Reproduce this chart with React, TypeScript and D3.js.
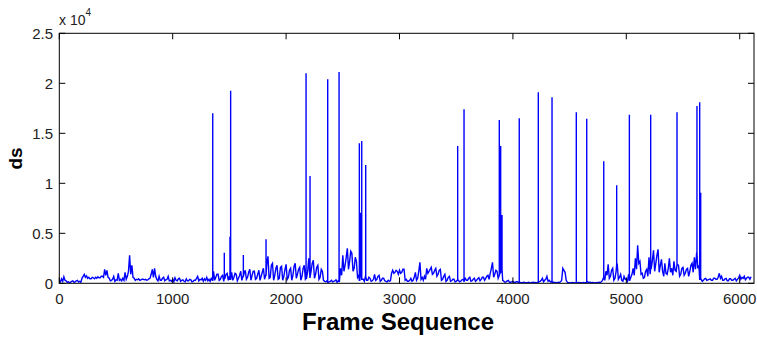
import React from "react";
import * as d3 from "d3";

// Baseline samples every 10 frames, frame 0..6100
const baseStep = 10;
const baseline: number[] = [
  300, 150, 450, 200, 650, 300, 250, 100, 150, 80, 100, 200, 250, 100, 150, 250, 300, 120, 200, 100,
  500, 700, 900, 600, 750, 500, 600, 450, 450, 600, 550, 450, 600, 500, 650, 550, 550, 700, 700, 600,
  1400, 800, 1300, 600, 500, 250, 300, 400, 700, 200, 350, 300, 1000, 300, 400, 250, 500, 300, 1100, 400,
  700, 1200, 2800, 900, 1800, 600, 500, 300, 400, 350, 450, 300, 350, 400, 400, 350, 400, 300, 350, 450,
  500, 900, 1400, 600, 1500, 700, 400, 250, 700, 300, 300, 500, 600, 250, 350, 400, 700, 250, 300, 200,
  400, 150, 550, 300, 250, 450, 500, 200, 300, 350, 200, 150, 450, 250, 250, 400, 350, 150, 200, 300,
  300, 500, 700, 250, 400, 350, 500, 200, 450, 300, 600, 250, 400, 200, 500, 300, 1200, 300, 600, 900,
  900, 300, 400, 700, 800, 200, 500, 900, 1000, 300, 700, 400, 1100, 300, 600, 1000, 900, 250, 500, 800,
  1200, 300, 700, 1000, 1300, 400, 600, 1100, 1400, 300, 800, 1200, 1200, 400, 500, 900, 1300, 300, 700, 1100,
  1500, 400, 800, 2000, 2700, 500, 600, 1800, 2000, 300, 800, 1500, 1800, 400, 500, 1600, 1700, 300, 700, 1400,
  1900, 400, 600, 1300, 1500, 300, 800, 1700, 2000, 500, 900, 1400, 1600, 300, 700, 1500, 1800, 400, 500, 1200,
  2500, 600, 1200, 2000, 2300, 500, 900, 1600, 1800, 400, 600, 1400, 1200, 300, 200, 150, 250, 100, 150, 200,
  300, 150, 200, 250, 350, 100, 250, 200, 1500, 800, 2800, 1200, 1800, 2600, 3500, 1400, 2200, 3200, 3000, 1200,
  1500, 2600, 2200, 600, 800, 300, 1200, 400, 400, 200, 700, 300, 300, 600, 500, 200, 250, 400, 900, 300,
  400, 700, 800, 200, 300, 500, 500, 250, 200, 150, 300, 200, 250, 1000, 1300, 1000, 1100, 1300, 1200, 900,
  1300, 1000, 1100, 1400, 1400, 300, 400, 200, 200, 300, 500, 200, 300, 600, 1100, 300, 500, 1200, 2100, 400,
  600, 300, 700, 400, 1500, 1000, 1200, 1400, 1600, 900, 1000, 1300, 1500, 700, 900, 1300, 1400, 300, 400, 700,
  900, 200, 300, 600, 700, 200, 250, 400, 400, 150, 200, 300, 300, 150, 200, 350, 400, 200, 500, 300,
  300, 500, 600, 200, 250, 400, 500, 200, 300, 450, 550, 250, 400, 600, 600, 300, 500, 700, 800, 400,
  1000, 1500, 2100, 600, 900, 1300, 1200, 500, 800, 1100, 1400, 300, 200, 100, 150, 250, 300, 100, 100, 150,
  200, 80, 100, 150, 150, 50, 100, 60, 50, 80, 100, 40, 50, 60, 100, 40, 50, 80, 100, 60,
  80, 50, 100, 150, 200, 300, 500, 150, 300, 400, 700, 200, 300, 150, 200, 100, 100, 60, 80, 50,
  100, 80, 150, 300, 1500, 1300, 1100, 300, 100, 60, 60, 40, 80, 50, 50, 40, 60, 50, 80, 60,
  50, 40, 80, 60, 60, 50, 150, 80, 100, 60, 80, 50, 60, 40, 80, 60, 100, 80, 150, 300,
  600, 300, 1200, 800, 1900, 500, 700, 1300, 1500, 300, 500, 1200, 1900, 400, 600, 900, 300, 200, 700, 400,
  400, 200, 900, 300, 600, 900, 1500, 800, 2500, 1400, 3800, 2000, 2200, 900, 1000, 500, 600, 1200, 1400, 700,
  2600, 900, 1500, 2300, 3300, 1200, 2000, 2800, 3400, 1100, 1800, 2400, 1200, 700, 2000, 1000, 900, 1500, 2500, 1100,
  1500, 800, 2200, 1300, 1200, 1900, 1800, 700, 900, 1500, 1600, 800, 1000, 1400, 1500, 700, 1200, 1800, 2000, 1100,
  2600, 1400, 3000, 1500, 1800, 400, 400, 200, 300, 450, 500, 300, 350, 400, 450, 300, 300, 500, 500, 400,
  400, 600, 1000, 500, 700, 300, 300, 450, 500, 250, 250, 450, 450, 300, 300, 400, 500, 250, 400, 550,
  800, 400, 600, 500, 700, 350, 500, 600, 600, 400, 650,
];

// Isolated spikes
const spikeFrames: number[] = [
  1353, 1455, 1505, 1511, 1623, 1823, 2176, 2211, 2367, 2467, 2646, 2655,
  2667, 2702, 3513, 3569, 3880, 3892, 3904, 4056, 4224, 4345, 4559, 4651,
  4801, 4915, 5027, 5215, 5447, 5623, 5647, 5656,
];
const spikeValues: number[] = [
  17000, 3060, 4660, 19260, 2830, 4400, 21000, 10730, 20400, 21130, 14000, 7060,
  14230, 11830, 13730, 17400, 16330, 13730, 6830, 16500, 19100, 18600, 17100, 16460,
  12200, 9800, 16860, 16860, 17100, 17730, 18100, 9060,
];

const xTicks: number[] = [0, 1000, 2000, 3000, 4000, 5000, 6000];
const yTicks: number[] = [0, 5000, 10000, 15000, 20000, 25000];
const yTickLabels: string[] = ["0", "0.5", "1", "1.5", "2", "2.5"];

const W = 757;
const H = 339;
const left = 59.3;
const right = 754;
const top = 33.3;
const bottom = 283.3;
const font = "'Liberation Sans', Arial, Helvetica, sans-serif";

export default function App() {
  const x = d3.scaleLinear().domain([0, 6126]).range([left, right]);
  const y = d3.scaleLinear().domain([0, 25000]).range([bottom, top]);

  const pts: [number, number][] = baseline.map((v, i) => [i * baseStep, v]);
  const spikePts: [number, number][] = [];
  spikeFrames.forEach((f, i) => {
    const nb = baseline[Math.min(baseline.length - 1, Math.round(f / baseStep))];
    spikePts.push([f, nb], [f, spikeValues[i]], [f, nb]);
  });
  const all = [...pts, ...spikePts.map((p, i) => [p[0] + i * 1e-6, p[1]] as [number, number])]
    .sort((a, b) => a[0] - b[0]);

  const line = d3
    .line<[number, number]>()
    .x((d) => x(d[0]))
    .y((d) => y(d[1]));

  const tl = 6;
  return (
    <svg
      width={W}
      height={H}
      style={{ position: "absolute", left: 0, top: 0, background: "#fff" }}
    >
      <rect x={0} y={0} width={W} height={H} fill="#fff" />
      <defs>
        <clipPath id="plotclip">
          <rect x={left} y={top} width={right - left} height={bottom - top} />
        </clipPath>
      </defs>
      <path
        d={line(all) || ""}
        fill="none"
        stroke="#0000ff"
        strokeWidth={1.4}
        strokeLinejoin="miter"
        clipPath="url(#plotclip)"
      />
      <rect
        x={left}
        y={top}
        width={right - left}
        height={bottom - top}
        fill="none"
        stroke="#000"
        strokeWidth={1}
      />
      {xTicks.map((t) => (
        <g key={"x" + t}>
          <line x1={x(t)} x2={x(t)} y1={bottom} y2={bottom - tl} stroke="#000" />
          <line x1={x(t)} x2={x(t)} y1={top} y2={top + tl} stroke="#000" />
          <text
            x={x(t)}
            y={304}
            textAnchor="middle"
            fontFamily={font}
            fontSize={15}
            fill="#222"
          >
            {t}
          </text>
        </g>
      ))}
      {yTicks.map((t, i) => (
        <g key={"y" + t}>
          <line x1={left} x2={left + tl} y1={y(t)} y2={y(t)} stroke="#000" />
          <line x1={right} x2={right - tl} y1={y(t)} y2={y(t)} stroke="#000" />
          <text
            x={53}
            y={y(t) + 5.5}
            textAnchor="end"
            fontFamily={font}
            fontSize={15}
            fill="#222"
          >
            {yTickLabels[i]}
          </text>
        </g>
      ))}
      <text x={59} y={25} fontFamily={font} fontSize={14} fill="#222">
        x 10
        <tspan dy={-9} fontSize={10}>
          4
        </tspan>
      </text>
      <text
        x={398}
        y={330}
        textAnchor="middle"
        fontFamily={font}
        fontSize={24}
        fontWeight="bold"
        fill="#000"
      >
        Frame Sequence
      </text>
      <text
        transform={`translate(22,158.5) rotate(-90)`}
        textAnchor="middle"
        fontFamily={font}
        fontSize={19}
        fontWeight="bold"
        fill="#000"
      >
        ds
      </text>
    </svg>
  );
}
